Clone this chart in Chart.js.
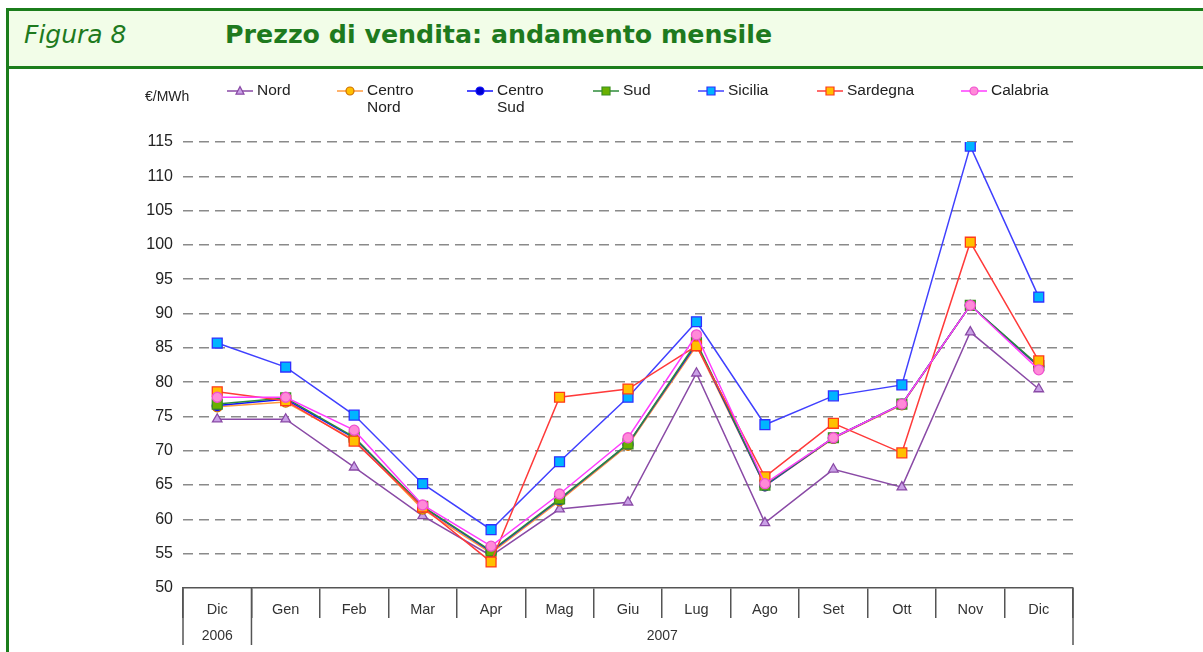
<!DOCTYPE html>
<html>
<head>
<meta charset="utf-8">
<script src="https://cdn.jsdelivr.net/npm/chart.js@4/dist/chart.umd.min.js"></script>
<style>
  html, body { margin: 0; padding: 0; background: #fff; }
  body { width: 1203px; height: 652px; position: relative; overflow: hidden; }
  .frame-left { position: absolute; left: 6px; top: 8px; width: 3px; height: 660px; background: #1b7d1b; }
  .header {
    position: absolute; left: 6px; top: 8px; width: 1220px; height: 55px;
    background: #f2fde8; border-top: 3px solid #1b7d1b; border-bottom: 3px solid #1b7d1b;
  }
  .fig { position: absolute; left: 24px; top: 20px; font: oblique 25px "DejaVu Sans"; color: #1e7a1e; }
  .title { position: absolute; left: 225px; top: 20px; font: bold 25.3px "DejaVu Sans"; color: #1e7a1e; }
  #chart { position: absolute; left: 0; top: 0; }
</style>
</head>
<body>
<div class="header"></div>
<div class="frame-left"></div>
<div class="fig">Figura 8</div>
<div class="title">Prezzo di vendita: andamento mensile</div>
<canvas id="chart" width="1203" height="652"></canvas>
<script>
// Mesi e anni
const months = ['Dic', 'Gen', 'Feb', 'Mar', 'Apr', 'Mag', 'Giu', 'Lug', 'Ago', 'Set', 'Ott', 'Nov', 'Dic'];
const years = ['2006', '2007'];
const yearStart = [0, 1];
const yearEnd = [0, 12];

// Prezzi €/MWh per zona
const nord       = [74.6, 74.6, 67.6, 60.5, 54.7, 61.5, 62.5, 81.3, 59.5, 67.3, 64.7, 87.3, 79.0];
const centroNord = [76.4, 77.1, 71.6, 61.5, 55.1, 62.7, 70.8, 85.3, 64.9, 71.8, 76.7, 91.2, 82.2];
const centroSud  = [76.6, 77.5, 71.9, 61.8, 55.3, 62.9, 71.0, 85.6, 64.9, 71.9, 76.8, 91.2, 82.3];
const sud        = [76.8, 77.7, 72.0, 61.9, 55.4, 63.0, 71.0, 85.8, 65.0, 71.9, 76.8, 91.2, 82.4];
const sicilia    = [85.7, 82.2, 75.2, 65.2, 58.5, 68.4, 77.8, 88.8, 73.8, 78.0, 79.6, 114.4, 92.4];
const sardegna   = [78.6, 77.3, 71.4, 61.8, 53.8, 77.8, 79.0, 85.3, 66.2, 74.0, 69.7, 100.4, 83.1];
const calabria   = [77.8, 77.8, 73.0, 62.1, 56.1, 63.7, 71.9, 86.9, 65.2, 71.9, 76.8, 91.2, 81.8];

const yMin = 50, yMax = 115, yStep = 5;

const series = [
  { label: ['Nord'],           data: nord,       line: '#8a4aa6', fill: '#c9a0e6', edge: '#8a4aa6', style: 'triangle', order: 6 },
  { label: ['Centro', 'Nord'], data: centroNord, line: '#ff9a3c', fill: '#ffc000', edge: '#d07000', style: 'circle',   order: 5 },
  { label: ['Centro', 'Sud'],  data: centroSud,  line: '#1010ff', fill: '#0000d0', edge: '#1010ff', style: 'circle',   order: 4 },
  { label: ['Sud'],            data: sud,        line: '#2e8b3a', fill: '#6ab000', edge: '#3a9020', style: 'rect',     order: 3 },
  { label: ['Sicilia'],        data: sicilia,    line: '#4040ff', fill: '#00b4ff', edge: '#3030ff', style: 'rect',     order: 2 },
  { label: ['Sardegna'],       data: sardegna,   line: '#ff3a3a', fill: '#ffc000', edge: '#ff3a1a', style: 'rect',     order: 1 },
  { label: ['Calabria'],       data: calabria,   line: '#ff3cff', fill: '#ff8ad8', edge: '#f050d0', style: 'circle',   order: 0 }
];

// marker radius by style (chart.js rect is drawn smaller than its radius)
const markerRadius = { rect: 7, circle: 5, triangle: 5.5 };

// legend positions (symbol start x)
const legendX = [227, 337, 467, 593, 698, 817, 961];

const drawMarker = (ctx, style, x, y, r, fill, edge) => {
  ctx.save();
  ctx.fillStyle = fill;
  ctx.strokeStyle = edge;
  ctx.lineWidth = 1.2;
  ctx.beginPath();
  if (style === 'circle') {
    ctx.arc(x, y, r, 0, Math.PI * 2);
  } else if (style === 'rect') {
    ctx.rect(x - r, y - r, r * 2, r * 2);
  } else {
    ctx.moveTo(x, y - r * 1.1);
    ctx.lineTo(x + r, y + r * 0.8);
    ctx.lineTo(x - r, y + r * 0.8);
    ctx.closePath();
  }
  ctx.fill();
  ctx.stroke();
  ctx.restore();
};

// legend, unit label, year row and category box lines
const extrasPlugin = {
  id: 'extras',
  afterDraw(chart) {
    const ctx = chart.ctx;
    const xs = chart.scales.x;
    const area = chart.chartArea;
    ctx.save();
    ctx.font = '14px "Liberation Sans"';
    ctx.fillStyle = '#222';
    ctx.textBaseline = 'middle';
    ctx.textAlign = 'left';
    ctx.fillText('€/MWh', 145, 97);
    series.forEach((s, i) => {
      const x0 = legendX[i];
      ctx.strokeStyle = s.line;
      ctx.lineWidth = 1.5;
      ctx.beginPath();
      ctx.moveTo(x0, 91);
      ctx.lineTo(x0 + 26, 91);
      ctx.stroke();
      drawMarker(ctx, s.style, x0 + 13, 91, 4, s.fill, s.edge);
      ctx.fillStyle = '#222';
      ctx.font = '15.5px "Liberation Sans"';
      s.label.forEach((t, k) => ctx.fillText(t, x0 + 30, 91 + k * 17));
    });

    // year row
    const half = (xs.getPixelForValue(1) - xs.getPixelForValue(0)) / 2;
    const bottom = area.bottom + 57;
    ctx.strokeStyle = '#555';
    ctx.lineWidth = 1.5;
    const longLines = [xs.getPixelForValue(0) - half];
    yearEnd.forEach(e => longLines.push(xs.getPixelForValue(e) + half));
    longLines.forEach(x => {
      ctx.beginPath();
      ctx.moveTo(x, area.bottom);
      ctx.lineTo(x, bottom);
      ctx.stroke();
    });
    ctx.fillStyle = '#333';
    ctx.font = '14px "Liberation Sans"';
    ctx.textAlign = 'center';
    years.forEach((y, i) => {
      const cx = (xs.getPixelForValue(yearStart[i]) + xs.getPixelForValue(yearEnd[i])) / 2;
      ctx.fillText(y, cx, area.bottom + 48);
    });
    ctx.restore();
  }
};

const initChart = () => {
  const ctx = document.getElementById('chart').getContext('2d');
  return new Chart(ctx, {
    type: 'line',
    data: {
      labels: months,
      datasets: series.map(s => ({
        label: s.label.join(' '),
        data: s.data,
        borderColor: s.line,
        borderWidth: 1.5,
        backgroundColor: s.fill,
        pointBackgroundColor: s.fill,
        pointBorderColor: s.edge,
        pointBorderWidth: 1.3,
        pointStyle: s.style,
        pointRadius: markerRadius[s.style],
        tension: 0,
        fill: false,
        order: s.order
      }))
    },
    options: {
      responsive: false,
      animation: false,
      layout: { padding: { top: 142, right: 130, left: 0, bottom: 0 } },
      plugins: {
        legend: { display: false },
        title: { display: false },
        tooltip: { enabled: false }
      },
      scales: {
        y: {
          min: yMin,
          max: yMax,
          afterFit: scale => { scale.width = 183; },
          ticks: {
            stepSize: yStep,
            padding: 10,
            color: '#222',
            font: { family: 'Liberation Sans', size: 16 }
          },
          border: { display: false, dash: [10, 6] },
          grid: {
            drawTicks: false,
            lineWidth: 1.5,
            color: c => (c.tick && c.tick.value === yMin ? 'rgba(0,0,0,0)' : '#8a8a8a')
          }
        },
        x: {
          offset: true,
          afterFit: scale => { scale.height = 64; },
          ticks: {
            padding: -17,
            color: '#333',
            maxRotation: 0,
            autoSkip: false,
            font: { family: 'Liberation Sans', size: 14.5 }
          },
          border: { display: true, color: '#555', width: 1.5 },
          grid: {
            offset: true,
            drawOnChartArea: false,
            drawTicks: true,
            tickLength: 30,
            color: '#555',
            lineWidth: 1.5
          }
        }
      }
    },
    plugins: [extrasPlugin]
  });
};

document.addEventListener('DOMContentLoaded', () => {
  initChart();
});
</script>
</body>
</html>
